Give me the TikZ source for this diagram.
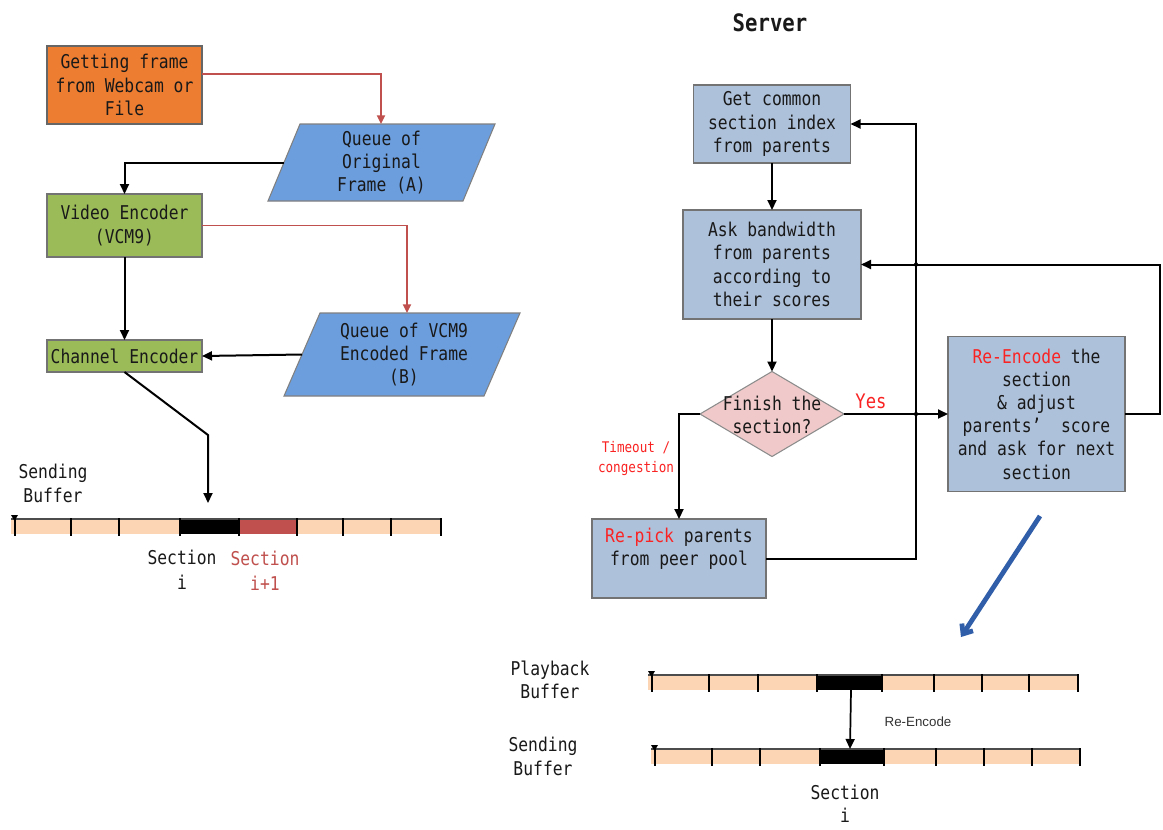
\documentclass[tikz,border=0pt]{standalone}
\usepackage{fontspec}
\setmainfont[FakeStretch=0.86]{DejaVu Sans Mono}
\newfontfamily\labelsans{Liberation Sans}
\usetikzlibrary{shapes.geometric,arrows.meta,calc}

\definecolor{orangebox}{RGB}{237,125,49}
\definecolor{greenbox}{RGB}{155,187,89}
\definecolor{queueblue}{RGB}{108,158,222}
\definecolor{stepblue}{RGB}{174,193,218}
\definecolor{pinkdia}{RGB}{240,202,202}
\definecolor{peach}{RGB}{252,213,180}
\definecolor{secred}{RGB}{192,80,77}
\definecolor{hired}{RGB}{250,35,35}
\definecolor{ink}{RGB}{25,25,25}
\definecolor{bigblue}{RGB}{48,94,168}

\tikzset{
  every node/.style={inner sep=0pt, outer sep=0pt},
  txt/.style={font=\fontsize{14.25pt}{17.4pt}\selectfont, align=center, text=ink},
  procO/.style={txt, draw=black!60, line width=0.8pt, fill=orangebox,
    minimum width=116.25pt},
  procG/.style={txt, draw=black!55, line width=0.8pt, fill=greenbox,
    minimum width=116.25pt},
  procB/.style={txt, draw=black!55, line width=0.8pt, fill=stepblue},
  queue/.style={draw=black!50, line width=0.8pt, fill=queueblue},
  dia/.style={diamond, draw=black!45, line width=0.8pt, fill=pinkdia,
    minimum width=108pt, minimum height=63.75pt},
  arr/.style={draw=black, line width=1.5pt, -{Triangle[length=7.5pt,width=6.75pt]}},
  redarr/.style={draw=secred, line width=1.35pt, -{Triangle[length=6.5pt,width=6pt]}},
  lbl/.style={txt},
  redlbl/.style={align=center, text=hired, font=\fontsize{11pt}{15pt}\selectfont},
  seclbl/.style={align=center, text=ink, font=\fontsize{14.25pt}{18.5pt}\selectfont},
  tick/.style={draw=black, line width=1.1pt},
  barline/.style={draw=black!70, line width=0.8pt},
}

\begin{document}
\begin{tikzpicture}[x=0.75pt,y=-0.75pt]
\useasboundingbox (0,0) rectangle (1163,829);
\fill[white] (0,0) rectangle (1163,829);

% ---------------- client side ----------------
\node[procO, minimum height=58.5pt] (grab) at (124.5,85)
  {Getting frame\\from Webcam or\\File};
\node[procG, minimum height=47.25pt] (venc) at (124.5,225.5)
  {Video Encoder\\(VCM9)};
\node[procG, minimum height=24pt] (cenc) at (124.5,356)
  {Channel Encoder};

% queues drawn as parallelograms
\path[queue] (268,201) -- (300,124) -- (495,124) -- (463,201) -- cycle;
\node[txt] (qa) at (381.5,162.5) {Queue of\\Original\\Frame (A)};
\coordinate (qa-top) at (381,124);
\coordinate (qa-left) at (284,162.5);

\path[queue] (284,396) -- (320,313) -- (520,313) -- (484,396) -- cycle;
\node[txt] (qb) at (404,354.5) {Queue of VCM9\\Encoded Frame\\(B)};
\coordinate (qb-top) at (407,313);
\coordinate (qb-left) at (302,354.5);

\draw[redarr] ([yshift=8.25pt]grab.east) -| (qa-top);
\draw[arr] (qa-left) -| (venc.north);
\draw[redarr] (venc.east) -| (qb-top);
\draw[arr] (venc.south) -- (cenc.north);
\draw[arr] (qb-left) -- (cenc.east);

\coordinate (bend) at (208,435);
\coordinate (lbuf-in) at (208,503);
\draw[arr] (cenc.south) -- (bend) -- (lbuf-in);

% client sending buffer
\node[lbl] (lsend) at (53,483.5) {Sending\\Buffer};
\fill[peach] (11,519) rectangle (441,534);
\fill[black] (180,519) rectangle (239,534);
\fill[secred] (239,519) rectangle (297,534);
\draw[barline] (11,519) -- (441,519);
\foreach \x in {15,71,119,180,239,297,343,391,441}
  \draw[tick] (\x,518) -- (\x,536);
\fill (11,515) -- (18,515) -- (14.5,521) -- cycle;
\node[seclbl] (lseci) at (182,569.5) {Section\\i};
\node[seclbl, text=secred] (lsecn) at (265,570.5) {Section\\i+1};

% ---------------- server side ----------------
\node[font=\bfseries\fontsize{18pt}{20pt}\selectfont, text=ink] (server) at (770,23) {Server};

\node[procB, minimum width=117.75pt, minimum height=58.5pt] (getc) at (772,124)
  {Get common\\section index\\from parents};
\node[procB, minimum width=133.5pt, minimum height=81.75pt] (askb) at (772,264.5)
  {Ask bandwidth\\from parents\\according to\\their scores};
\node[dia] (fin) at (772,414) {};
\node[txt] (fintxt) at (772,415) {Finish the\\section?};
\node[procB, minimum width=132.75pt, minimum height=116.25pt] (renc) at (1036.5,414)
  {\textcolor{hired}{Re-Encode} the\\section\\\& adjust\\parents’\ \ score\\and ask for next\\section};
\node[procB, minimum width=130.5pt, minimum height=59.25pt] (repick) at (679,558.5)
  {\textcolor{hired}{Re-pick} parents\\from peer pool\\\mbox{}};

\node[txt, text=hired, font=\fontsize{15pt}{18pt}\selectfont] (yes) at (871,401) {Yes};
\node[redlbl] (tmo) at (636,458) {Timeout /\\congestion};

\draw[arr] (getc.south) -- (askb.north);
\draw[arr] (askb.south) -- (fin.north);
\draw[arr] (fin.east) -- (renc.west);
\draw[arr] (fin.west) -| (repick.north);
\coordinate (loop-top) at (916,124);
\draw[arr] (repick.east) -| (loop-top) -- (getc.east);
\draw[arr] (renc.east) -- ++(35,0) |- (askb.east);
\fill (916,264.5) circle (1.6pt);
\fill (916,414) circle (1.6pt);

% re-encoding arrow towards the buffers
\coordinate (bb-start) at (1040,516);
\coordinate (bb-end) at (961,637);
\draw[bigblue, line width=3.6pt, -{Straight Barb[length=6pt,width=10pt]}] (bb-start) -- (bb-end);

% playback buffer
\node[lbl] (pblbl) at (550,680) {Playback\\Buffer};
\fill[peach] (648,675) rectangle (1078,690);
\fill[black] (817,675) rectangle (882,690);
\draw[barline] (648,675) -- (1078,675);
\foreach \x in {652,709,758,817,882,934,982,1029,1078}
  \draw[tick] (\x,674) -- (\x,692);
\fill (648,671) -- (655,671) -- (651.5,677) -- cycle;

% server sending buffer
\node[lbl] (sblbl) at (543,756.5) {Sending\\Buffer};
\fill[peach] (651,749) rectangle (1080,764);
\fill[black] (820,749) rectangle (884,764);
\draw[barline] (651,749) -- (1080,749);
\foreach \x in {655,712,760,820,884,936,984,1032,1080}
  \draw[tick] (\x,748) -- (\x,766);
\fill (651,745) -- (658,745) -- (654.5,751) -- cycle;

\coordinate (pb-out) at (851,690);
\coordinate (sb-in) at (850,749);
\draw[arr, line width=1.3pt] (pb-out) -- (sb-in);
\node[font=\labelsans\fontsize{10pt}{12pt}\selectfont, text=black!80] (relbl) at (918,722) {Re-Encode};

\node[txt] (rseci) at (845,804) {Section\\i};
\end{tikzpicture}
\end{document}
